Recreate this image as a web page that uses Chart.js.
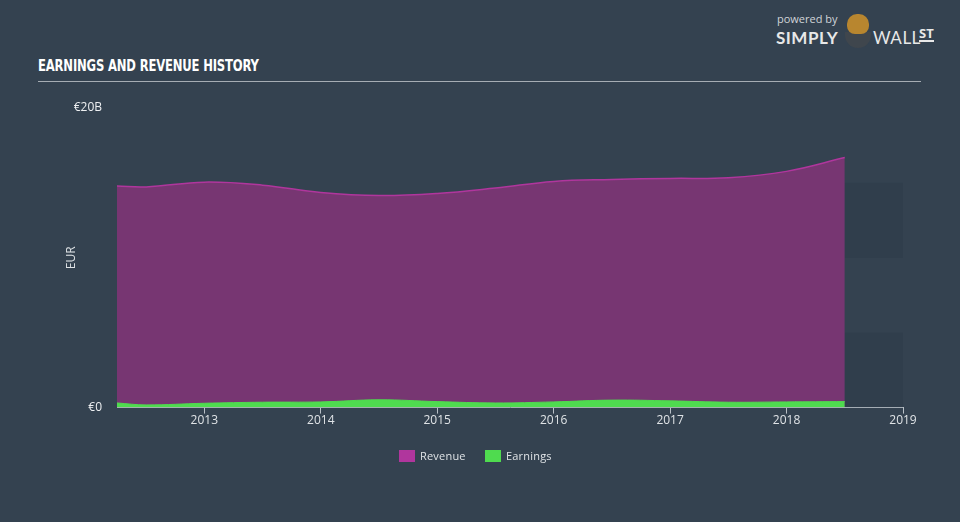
<!DOCTYPE html>
<html>
<head>
<meta charset="utf-8">
<script src="https://cdn.jsdelivr.net/npm/chart.js@4/dist/chart.umd.min.js"></script>
<style>
  html, body { margin: 0; padding: 0; }
  body { width: 960px; height: 522px; background: #344250; position: relative; overflow: hidden; font-family: "Open Sans", "DejaVu Sans", sans-serif; }
  #titulo { position: absolute; left: 38px; top: 57px; color: #ffffff; font-family: "DejaVu Sans Condensed", "Liberation Sans Narrow", sans-serif; font-weight: bold; font-size: 15px; letter-spacing: -0.2px; transform: scaleX(0.86); transform-origin: left; }
  #linea { position: absolute; left: 38px; top: 81px; width: 883px; height: 1px; background: #a6adb4; }
  #logo { position: absolute; left: 776px; top: 10px; width: 175px; height: 40px; color: #e8e8e8; }
  #logo .powered { position: absolute; left: 1px; top: 1px; font-size: 11px; color: #d0d4d8; }
  #logo .simply { position: absolute; left: 0; top: 17px; font-size: 17px; font-weight: bold; letter-spacing: 0.5px; font-family: "Lato", "Open Sans", sans-serif; }
  #logo .wall { position: absolute; left: 97px; top: 17px; font-size: 17px; letter-spacing: 0.5px; font-family: "Lato", "Open Sans", sans-serif; }
  #logo .st { position: absolute; left: 143px; top: 16px; font-size: 13px; font-weight: bold; border-bottom: 2px solid #e8e8e8; line-height: 14px; }
  #logo .toro { position: absolute; left: 71px; top: 4px; width: 22px; height: 20px; border-radius: 10px 10px 8px 8px; background: #b8862f; }
  #logo .traje { position: absolute; left: 69px; top: 22px; width: 26px; height: 16px; border-radius: 0 0 13px 13px; background: #3f464d; }
  #grafico { position: absolute; left: 0; top: 0; }
  #leyenda { position: absolute; left: 399px; top: 448px; height: 14px; color: #dfe3e6; font-size: 11px; letter-spacing: 0.2px; }
  #leyenda .item { position: absolute; top: 0; white-space: nowrap; }
  #leyenda .caja { display: inline-block; width: 16px; height: 12px; vertical-align: -2px; margin-right: 5px; }
</style>
</head>
<body>
<div id="titulo">EARNINGS AND REVENUE HISTORY</div>
<div id="linea"></div>
<div id="logo">
  <span class="powered">powered by</span>
  <span class="simply">SIMPLY</span>
  <div class="traje"></div><div class="toro"></div>
  <span class="wall">WALL</span>
  <span class="st">ST</span>
</div>
<canvas id="grafico" width="960" height="522"></canvas>
<div id="leyenda"></div>
<script>
// --- Datos (miles de millones de EUR) ---
const periodos = [2012.25, 2012.5, 2013, 2013.5, 2014, 2014.5, 2015, 2015.5, 2016, 2016.5, 2017, 2017.5, 2018, 2018.5];
const ingresos = [14.79, 14.73, 15.05, 14.85, 14.36, 14.16, 14.3, 14.66, 15.1, 15.23, 15.3, 15.35, 15.77, 16.69];
const ganancias = [0.31, 0.18, 0.29, 0.36, 0.38, 0.52, 0.4, 0.31, 0.38, 0.5, 0.45, 0.36, 0.38, 0.4];
const anios = [2013, 2014, 2015, 2016, 2017, 2018, 2019];
const ticksY = [0, 20];

const toPuntos = serie => periodos.map((p, i) => ({ x: p, y: serie[i] }));

// bandas oscuras en la zona sin datos (después del último periodo)
const bandasFuturo = {
    id: 'bandasFuturo',
    beforeDatasetsDraw(chart) {
        const { ctx, chartArea, scales } = chart;
        const x0 = scales.x.getPixelForValue(periodos[periodos.length - 1]);
        const x1 = chartArea.right;
        ctx.save();
        ctx.fillStyle = 'rgba(38,50,62,0.22)';
        [[0, 5], [10, 15]].forEach(b => {
            const yA = scales.y.getPixelForValue(b[1]);
            const yB = scales.y.getPixelForValue(b[0]);
            ctx.fillRect(x0, yA, x1 - x0, yB - yA);
        });
        ctx.restore();
    }
};

const grafico = new Chart(document.getElementById('grafico').getContext('2d'), {
    type: 'line',
    data: {
        datasets: [
            {
                label: 'Earnings',
                data: toPuntos(ganancias),
                borderColor: '#4fdb4f',
                backgroundColor: '#4fdb4f',
                borderWidth: 1,
                fill: 'origin',
                pointRadius: 0,
                tension: 0.4
            },
            {
                label: 'Revenue',
                data: toPuntos(ingresos),
                borderColor: '#b0369d',
                backgroundColor: '#773672',
                borderWidth: 1.5,
                fill: 'origin',
                pointRadius: 0,
                tension: 0.4
            }
        ]
    },
    options: {
        responsive: false,
        animation: false,
        layout: { padding: { left: 62, right: 57, top: 108, bottom: 91 } },
        scales: {
            x: {
                type: 'linear',
                min: periodos[0],
                max: 2019,
                afterBuildTicks: s => { s.ticks = anios.map(v => ({ value: v })); },
                afterFit: s => { s.height += 3; },
                grid: { drawOnChartArea: false, color: '#b9c0c7', tickLength: 6 },
                border: { color: '#b9c0c7' },
                ticks: { color: '#dfe3e6', font: { size: 12, family: 'Open Sans' }, padding: 0, callback: v => String(v) }
            },
            y: {
                min: 0,
                max: 20,
                afterBuildTicks: s => { s.ticks = ticksY.map(v => ({ value: v })); },
                afterFit: s => { s.width = 55; },
                grid: { display: false, drawTicks: false },
                border: { display: false },
                ticks: { color: '#eef0f2', font: { size: 12, family: 'Open Sans' }, padding: 15, callback: v => v === 0 ? '€0' : '€' + v + 'B' },
                title: { display: true, text: 'EUR', color: '#dfe3e6', font: { size: 12, family: 'Open Sans' }, padding: 2 }
            }
        },
        plugins: {
            legend: { display: false },
            tooltip: { enabled: false }
        }
    },
    plugins: [bandasFuturo]
});

// --- Leyenda HTML (Revenue primero, como en el original) ---
const leyenda = document.getElementById('leyenda');
const posiciones = [86, 0];
grafico.data.datasets.forEach((d, i) => {
    const item = document.createElement('span');
    item.className = 'item';
    item.style.left = posiciones[i] + 'px';
    item.innerHTML = '<span class="caja" style="background:' + d.borderColor + '"></span>' + d.label;
    leyenda.appendChild(item);
});
</script>
</body>
</html>
